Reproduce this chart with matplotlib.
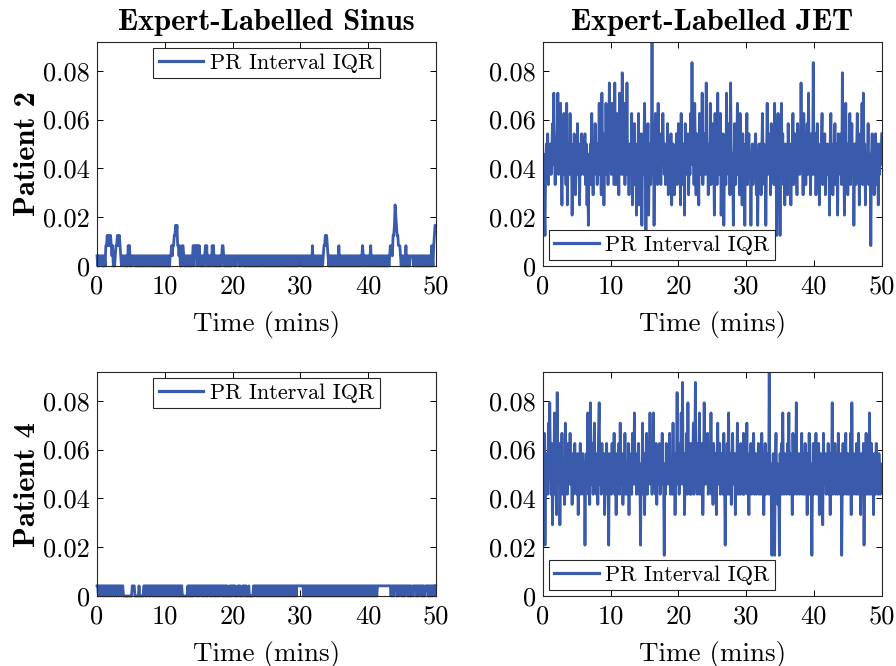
import numpy as np
import matplotlib
matplotlib.use("Agg")
import matplotlib.pyplot as plt

# PR interval IQR, in samples at 240 Hz (value / 240 = seconds), one value per 0.1 min
fs = 240.0
dt_min = 0.1

sinus_p2 = [1,0,1,0,1,1,1,1,0,1,0,1,0,2,2,3,2,3,3,2,
            3,2,1,2,0,1,0,1,2,2,3,3,2,3,2,1,0,1,1,1,
            1,0,1,0,1,0,2,1,2,0,1,0,1,1,1,1,0,1,0,1,
            0,1,0,1,0,1,0,1,0,1,0,1,0,1,0,1,0,1,1,0,
            1,0,1,0,1,0,1,0,1,0,1,0,1,0,1,0,1,0,1,0,
            1,0,1,0,1,0,1,0,1,1,2,1,2,2,3,3,4,3,4,2,
            2,1,2,0,1,0,2,2,1,0,1,0,1,0,1,0,1,1,0,1,
            0,1,2,0,2,1,2,2,0,2,1,2,0,1,0,1,0,1,0,1,
            2,1,2,0,1,0,1,0,1,0,2,1,2,0,1,0,1,0,1,0,
            1,0,1,0,1,2,2,1,0,1,0,1,0,1,0,1,0,1,0,1,
            1,1,1,0,1,0,1,1,1,1,0,1,0,1,1,1,0,1,0,1,
            0,1,0,1,0,1,0,1,0,1,0,1,0,1,0,1,0,1,0,1,
            0,1,0,1,0,1,1,0,1,0,1,0,1,0,1,0,1,0,1,0,
            1,0,1,0,1,0,1,0,1,0,1,0,1,1,0,1,0,1,0,1,
            0,1,0,1,0,1,0,1,0,1,0,1,0,1,0,1,0,1,0,1,
            1,1,1,0,1,0,1,0,1,0,1,0,1,0,1,0,1,0,2,0,
            1,0,1,0,1,0,1,0,1,0,1,0,1,0,1,2,2,3,2,3,
            2,1,0,1,0,1,0,1,0,1,0,1,0,1,0,1,0,2,0,1,
            0,1,0,1,0,1,0,1,0,1,0,1,0,1,0,1,0,1,0,1,
            0,1,0,1,0,1,0,1,0,1,0,1,2,1,0,1,0,1,0,1,
            0,1,0,1,2,0,1,0,1,0,1,0,1,0,1,0,1,0,1,0,
            1,0,1,0,1,0,1,0,1,0,1,0,1,2,2,2,1,3,3,4,
            6,5,4,3,3,2,2,2,1,0,1,0,1,0,1,0,2,0,1,0,
            1,0,1,1,1,1,1,0,1,0,1,0,1,0,1,0,1,0,1,0,
            1,0,1,0,1,0,1,0,1,0,1,0,1,0,2,1,0,2,3,4,
            4]

jet_p2 = [9,11,6,3,10,12,9,13,8,11,10,12,9,11,14,10,17,11,8,12,
          10,13,17,9,11,12,16,10,6,11,9,15,10,12,8,16,6,11,10,9,
          15,10,12,5,11,9,13,10,7,11,9,14,10,12,6,11,9,13,10,12,
          9,11,13,8,12,6,10,4,11,9,12,8,15,10,7,11,9,14,10,12,
          8,12,10,16,9,11,7,17,10,13,6,11,9,16,10,12,8,11,18,10,
          12,9,16,10,13,8,18,11,8,15,10,12,7,17,10,14,9,19,11,9,
          16,8,12,10,18,9,11,7,12,10,9,15,6,11,10,14,8,12,5,11,
          9,15,6,11,10,13,4,11,9,12,16,10,3,11,9,14,5,11,12,8,
          11,22,9,13,4,11,15,10,12,8,16,10,9,13,8,12,10,15,11,9,
          12,8,11,10,14,7,11,12,9,13,6,10,12,9,7,11,10,13,8,11,
          14,9,12,6,15,10,11,8,12,5,14,9,11,10,13,7,11,9,15,10,
          20,10,12,8,16,11,7,13,10,11,6,15,9,12,10,17,8,11,10,13,
          9,18,10,12,7,11,10,16,8,11,14,9,11,5,15,10,12,8,17,10,
          12,9,15,5,11,10,13,4,11,12,8,17,10,11,9,14,7,18,10,9,
          11,4,10,14,8,12,10,16,9,11,7,15,10,11,6,13,9,11,4,12,
          10,15,8,11,13,9,11,4,10,12,8,11,9,12,13,7,11,4,10,12,
          9,12,7,11,15,10,12,8,11,4,10,16,9,12,10,13,7,14,9,11,
          12,8,16,10,11,3,10,15,9,12,3,11,16,10,13,8,11,6,12,10,
          11,7,14,9,11,12,6,11,10,15,8,11,13,9,11,7,14,10,12,9,
          11,18,10,12,7,15,10,12,8,11,14,9,17,10,12,7,13,10,9,20,
          11,9,13,7,11,14,10,12,6,11,9,12,15,8,11,10,13,7,11,9,
          12,10,11,5,12,15,9,11,7,12,10,14,8,11,12,5,13,10,11,9,
          13,8,19,10,12,5,11,16,9,12,7,11,10,15,8,11,14,9,12,4,
          10,12,8,11,15,10,12,6,13,9,11,16,8,17,10,12,6,11,9,10,
          14,8,11,10,2,11,13,9,12,7,11,13,8,12,10,6,12,9,11,10,
          13]

sinus_p4 = [1,1,0,1,1,0,1,1,1,0,1,1,0,1,1,1,0,1,1,0,
            1,1,0,1,1,1,0,1,1,0,1,1,0,1,1,1,0,1,1,0,
            0,0,0,0,0,0,0,0,0,0,0,0,1,1,1,1,0,0,0,0,
            0,0,1,0,0,0,0,0,0,1,1,1,0,1,0,1,1,0,1,0,
            1,1,0,1,0,1,0,1,0,1,0,1,0,1,0,1,0,1,0,1,
            0,1,0,1,0,1,0,1,0,1,0,1,0,1,0,1,0,1,0,1,
            0,1,0,1,0,1,0,0,0,0,0,0,0,0,1,0,1,0,1,0,
            1,0,1,0,1,1,1,0,1,0,1,0,1,1,1,0,1,0,1,0,
            1,0,1,0,1,1,1,0,1,0,1,0,1,0,1,0,1,0,1,0,
            1,0,1,1,1,0,1,0,1,0,1,0,1,0,0,0,1,0,1,0,
            1,1,1,0,1,0,0,0,1,1,0,1,0,0,0,1,0,1,1,0,
            1,0,0,0,1,0,0,0,0,0,0,1,0,1,1,1,0,1,0,1,
            0,1,0,1,0,1,0,1,0,1,0,1,0,1,0,1,0,1,0,1,
            0,1,0,1,0,1,0,1,0,1,0,1,0,1,0,1,0,1,0,1,
            0,1,0,1,0,1,0,1,0,1,0,1,0,1,0,1,1,1,1,1,
            1,1,1,1,1,0,1,0,1,0,1,0,1,0,1,0,1,0,1,0,
            1,0,1,0,1,0,1,0,1,0,1,0,1,0,1,0,1,0,1,0,
            1,0,1,0,1,0,1,0,1,0,1,0,1,0,1,0,1,0,1,0,
            1,0,1,0,1,0,1,0,1,0,1,0,1,0,1,0,1,0,1,0,
            1,0,1,0,1,0,1,0,1,0,1,0,1,0,1,0,1,0,1,0,
            1,0,1,0,1,0,1,0,1,0,1,0,1,0,1,1,1,1,1,1,
            1,1,1,1,1,1,1,1,1,1,1,1,1,1,0,1,0,1,0,1,
            1,1,1,0,1,0,1,1,1,1,0,1,0,1,0,1,1,1,1,0,
            1,0,1,0,1,0,0,1,1,1,1,0,1,0,1,0,1,1,1,0,
            1,0,1,0,0,1,1,1,1,0,1,0,1,0,1,0,1,1,1,0,
            1]

jet_p4 = [12,10,16,5,13,11,14,10,17,12,19,13,10,15,7,12,11,18,10,13,
          8,20,12,11,15,7,13,11,16,10,13,12,9,17,11,13,10,15,12,11,
          16,11,13,9,14,10,12,15,11,13,10,14,8,12,11,15,10,13,11,14,
          10,13,5,12,14,11,18,10,13,9,19,12,11,15,10,13,17,11,14,10,
          13,9,16,19,11,14,10,15,12,11,14,8,13,11,15,10,12,5,14,11,
          13,10,15,11,12,16,10,13,8,14,12,11,15,10,17,12,11,14,9,13,
          11,16,10,13,12,10,15,8,14,11,13,10,16,12,11,18,11,14,10,13,
          12,15,10,13,5,12,11,17,10,14,8,13,12,16,10,15,11,13,18,11,
          14,10,12,18,11,13,10,15,9,14,12,11,15,10,13,11,16,11,12,4,
          13,10,15,11,12,14,11,16,10,13,12,10,17,11,14,8,13,12,20,11,
          15,10,13,12,18,11,21,11,14,8,13,12,16,10,19,11,13,10,15,10,
          14,12,17,10,13,21,11,15,10,14,12,18,10,13,11,15,8,12,19,11,
          14,11,13,16,10,12,14,11,18,10,13,9,15,12,11,14,8,13,17,11,
          12,15,10,14,11,13,10,16,12,5,13,11,15,10,18,12,10,14,9,13,
          16,11,12,14,8,13,11,17,10,14,12,10,15,11,13,10,16,10,12,14,
          11,17,10,13,8,14,12,15,10,13,11,16,10,12,14,10,13,11,15,10,
          12,14,10,16,11,13,8,12,15,10,13,11,14,10,22,11,13,10,4,12,
          14,10,4,13,16,11,13,9,12,4,14,11,15,10,18,12,10,14,11,13,
          10,15,12,18,10,14,11,13,8,16,12,10,15,11,19,10,13,12,14,10,
          13,11,16,10,14,12,10,15,11,13,8,14,12,16,10,13,11,4,12,15,
          10,14,12,16,10,13,11,15,8,12,14,10,13,7,16,11,12,14,10,13,
          11,15,10,13,8,14,12,19,10,13,11,15,10,14,12,10,16,11,13,10,
          14,4,12,15,10,13,11,16,10,12,14,10,13,11,16,8,19,12,10,14,
          11,13,10,15,12,10,16,11,13,8,14,12,10,15,5,13,11,16,10,12,
          14,10,18,12,10,15,11,13,8,14,12,10,15,11,13,10,14,12,10,13,
          12]

col_titles = ["Expert-Labelled Sinus", "Expert-Labelled JET"]
row_labels = ["Patient 2", "Patient 4"]
yticks = [0, 0.02, 0.04, 0.06, 0.08]
ytick_labels = ["0", "0.02", "0.04", "0.06", "0.08"]
xticks = [0, 10, 20, 30, 40, 50]

plt.rcParams['font.family'] = 'serif'
plt.rcParams['font.serif'] = ['cmr10', 'DejaVu Serif']
plt.rcParams['mathtext.fontset'] = 'cm'
plt.rcParams['axes.formatter.use_mathtext'] = True
plt.rcParams['path.simplify'] = False

blue = '#3a5aab'
fig = plt.figure(figsize=(8.96, 6.66), dpi=100)

lefts = [0.1083, 0.606]
bottoms = [0.6006, 0.1051]
w, h = 0.378, 0.336
row_y = [0.769, 0.273]

data = [[sinus_p2, jet_p2], [sinus_p4, jet_p4]]
for r in range(2):
    for c in range(2):
        ax = fig.add_axes([lefts[c], bottoms[r], w, h])
        y = np.array(data[r][c]) / fs
        t = np.arange(len(y)) * dt_min
        ax.plot(t, y, color=blue, lw=2.0, label='PR Interval IQR', clip_on=(c == 1))
        ax.set_xlim(0, 50)
        ax.set_ylim(0, 22 / fs)
        ax.set_xticks(xticks)
        ax.set_xticklabels([str(v) for v in xticks])
        ax.set_yticks(yticks)
        ax.set_yticklabels(ytick_labels)
        ax.tick_params(direction='in', top=True, right=True, length=4, width=0.7,
                       labelsize=19)
        ax.tick_params(axis='x', pad=6)
        ax.tick_params(axis='y', pad=5)
        for s in ax.spines.values():
            s.set_linewidth(0.8)
            s.set_color('#262626')
        ax.set_xlabel('Time (mins)', fontsize=19.5, labelpad=9)
        if r == 0:
            ax.set_title(col_titles[c], fontsize=22, fontfamily='cmb10', pad=9)
        if c == 0:
            fig.text(0.031, row_y[r], row_labels[r], rotation=90, fontsize=22,
                     fontfamily='cmb10', ha='center', va='center')
            loc = 'upper center'
        else:
            loc = 'lower left'
        leg = ax.legend(loc=loc, fontsize=16, fancybox=False,
                        edgecolor='#262626', framealpha=1, handlelength=2.0,
                        handletextpad=0.3, borderaxespad=0.25, borderpad=0.25)
        leg.get_frame().set_linewidth(0.8)
        leg.get_lines()[0].set_linewidth(2.3)

fig.savefig('out.png', dpi=100)
